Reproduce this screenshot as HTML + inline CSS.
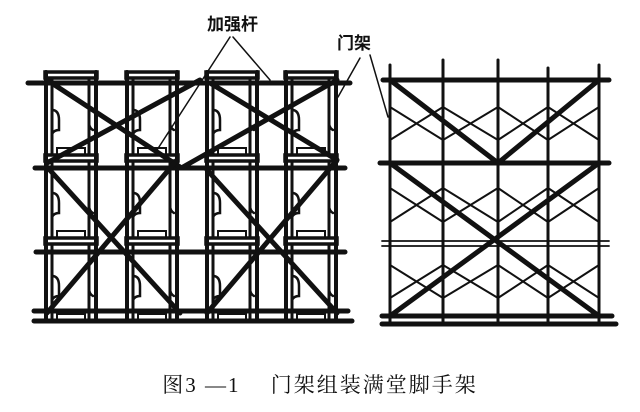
<!DOCTYPE html>
<html><head><meta charset="utf-8"><style>
html,body{margin:0;padding:0;background:#fff;width:640px;height:412px;overflow:hidden}
svg{position:absolute;left:0;top:0}
.cap{position:absolute;left:0;width:640px;top:369px;text-align:center;font-family:"Liberation Serif","Noto Serif CJK SC",serif;font-size:21px;color:#111;letter-spacing:2px}
</style></head><body>
<svg width="640" height="412" viewBox="0 0 640 412">
<g fill="none" stroke="#111" stroke-linecap="round">
<defs>
<g id="tier">
 <rect x="0" y="0" width="52" height="6" stroke-width="3.5"/>
 <line x1="1" y1="0" x2="1" y2="82" stroke-width="4"/>
 <line x1="7" y1="6" x2="7" y2="82" stroke-width="3"/>
 <line x1="44" y1="6" x2="44" y2="82" stroke-width="3"/>
 <line x1="51" y1="0" x2="51" y2="82" stroke-width="4"/>
 <path d="M7 38 Q14 38 14 48 L14 58 Q9 58 7 62" stroke-width="2.5"/>
 <path d="M44 34 L44 50 Q44 56 48 58" stroke-width="2.5"/>
 <path d="M12 82 L12 76 L40 76 L40 82" stroke-width="2"/>
</g>
</defs>
<g>
<use href="#tier" x="45" y="72"/><use href="#tier" x="45" y="155"/><use href="#tier" x="45" y="238"/>
<use href="#tier" x="126" y="72"/><use href="#tier" x="126" y="155"/><use href="#tier" x="126" y="238"/>
<use href="#tier" x="206" y="72"/><use href="#tier" x="206" y="155"/><use href="#tier" x="206" y="238"/>
<use href="#tier" x="285" y="72"/><use href="#tier" x="285" y="155"/><use href="#tier" x="285" y="238"/>
</g>
<g stroke-width="5">
<line x1="28" y1="83" x2="350" y2="83"/>
<line x1="35" y1="168" x2="345" y2="168"/>
<line x1="36" y1="252" x2="345" y2="252"/>
<line x1="34" y1="311" x2="348" y2="311"/>
<line x1="34" y1="321" x2="352" y2="321"/>
</g>
<g stroke-width="5">
<line x1="47" y1="80" x2="180" y2="167"/>
<line x1="47" y1="163" x2="200" y2="80"/>
<line x1="210" y1="83" x2="337" y2="160"/>
<line x1="183" y1="167" x2="337" y2="80"/>
<line x1="47" y1="167" x2="180" y2="313"/>
<line x1="47" y1="313" x2="177" y2="160"/>
<line x1="207" y1="170" x2="337" y2="313"/>
<line x1="207" y1="313" x2="337" y2="160"/>
</g>
<g stroke-width="1.5">
<line x1="230" y1="37" x2="157" y2="150"/>
<line x1="233" y1="37" x2="270" y2="80"/>
<line x1="360" y1="58" x2="338" y2="97"/>
<line x1="370" y1="55" x2="388" y2="117"/>
</g>
<g stroke-width="3">
<line x1="390" y1="65" x2="390" y2="325"/>
<line x1="443" y1="60" x2="443" y2="325"/>
<line x1="498" y1="60" x2="498" y2="325"/>
<line x1="548" y1="68" x2="548" y2="325"/>
<line x1="599" y1="65" x2="599" y2="325"/>
</g>
<g stroke-width="2">
<path d="M390 107 L443 140 M390 140 L443 107 M443 107 L498 140 M443 140 L498 107 M498 107 L548 140 M498 140 L548 107 M548 107 L599 140 M548 140 L599 107"/>
<path d="M390 188 L443 222 M390 222 L443 188 M443 188 L498 222 M443 222 L498 188 M498 188 L548 222 M498 222 L548 188 M548 188 L599 222 M548 222 L599 188"/>
<path d="M390 265 L443 298 M390 298 L443 265 M443 265 L498 298 M443 298 L498 265 M498 265 L548 298 M498 298 L548 265 M548 265 L599 298 M548 298 L599 265"/>
</g>
<g stroke-width="5">
<line x1="383" y1="80" x2="609" y2="80"/>
<line x1="380" y1="163" x2="609" y2="163"/>
<line x1="382" y1="316" x2="612" y2="316"/>
<line x1="382" y1="324" x2="616" y2="324"/>
<line x1="390" y1="80" x2="498" y2="163"/>
<line x1="498" y1="163" x2="599" y2="80"/>
<line x1="390" y1="163" x2="599" y2="316"/>
<line x1="599" y1="163" x2="390" y2="316"/>
</g>
<g stroke-width="1.8">
<line x1="382" y1="241" x2="609" y2="241"/>
<line x1="382" y1="246" x2="609" y2="246"/>
</g>
</g>
<g font-family="Liberation Sans,Noto Sans CJK SC,sans-serif" font-size="17" font-weight="bold" fill="#111">
<text x="207" y="30">加强杆</text>
<text x="337" y="49">门架</text>
</g>
</svg>
<div class="cap">图3 —1　 门架组装满堂脚手架</div>
</body></html>
